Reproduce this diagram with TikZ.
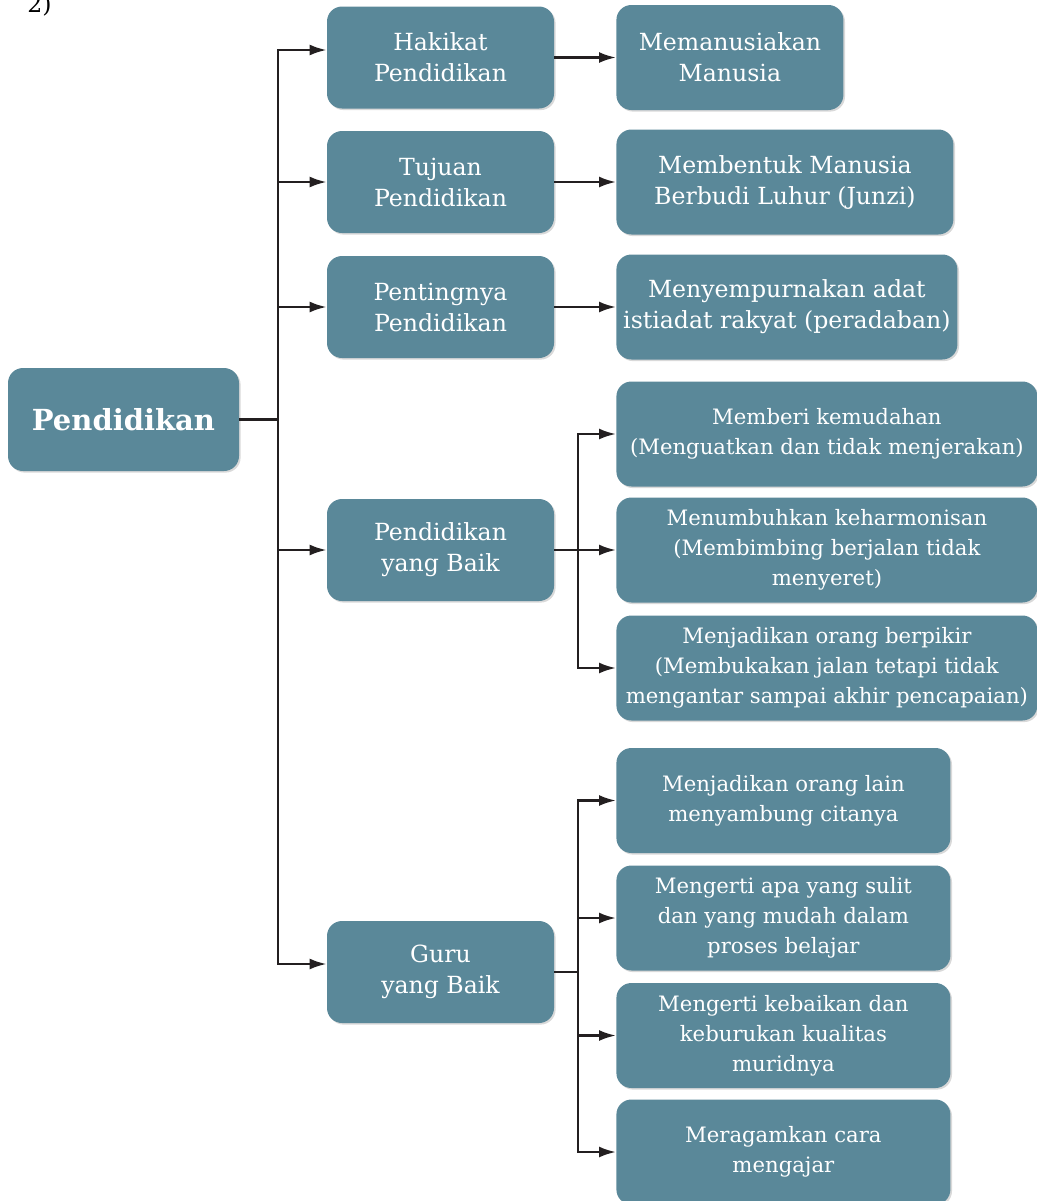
\documentclass[tikz,border=0pt]{standalone}
\usepackage{fontspec}
\setmainfont{DejaVu Serif}
\usetikzlibrary{shadows,arrows.meta}
\definecolor{boxblue}{RGB}{90,136,153}
\definecolor{linegray}{RGB}{35,31,32}

\begin{document}
\begin{tikzpicture}[x=0.5pt, y=-0.5pt, >={Latex[length=8.5pt,width=5.5pt]}, font=\fontsize{10.6}{15}\selectfont]

    % --- STYLES ---
    \tikzstyle{topic} = [fill=boxblue, text=white, rounded corners=7.5pt, align=center, inner sep=2pt, drop shadow={shadow xshift=0.8pt, shadow yshift=-0.8pt, opacity=0.3}]
    \tikzstyle{bigtext} = [font=\fontsize{11.8}{15.5}\selectfont]
    \tikzstyle{rootbox} = [topic, minimum width=115.5pt, minimum height=51.5pt, font=\fontsize{14.5}{18}\selectfont\bfseries]
    \tikzstyle{branch} = [topic, bigtext, minimum width=113.5pt, minimum height=51pt]
    \tikzstyle{leaf} = [topic, anchor=west, minimum height=52.5pt]
    \tikzstyle{wire} = [draw=linegray, line width=1.2pt]
    \tikzstyle{arrow} = [wire, ->]

    % --- DEFINITIONS ---
    \def\bX{440.5} % branch column (centre)
    \def\lX{616}   % leaf column (left edge)

    \useasboundingbox (0,0) rectangle (1037,1201);

    % --- LABEL ---
    \node[anchor=base west, bigtext, inner sep=0] (num) at (27,12) {2)};

    % --- ROOT ---
    \node[rootbox] (root) at (123.5,419.5) {Pendidikan};

    % --- BRANCHES ---
    \node[branch] (hak) at (\bX,57.5) {Hakikat\\Pendidikan};
    \node[branch] (tuj) at (\bX,182) {Tujuan\\Pendidikan};
    \node[branch] (pen) at (\bX,307) {Pentingnya\\Pendidikan};
    \node[branch] (pyb) at (\bX,550) {Pendidikan\\yang Baik};
    \node[branch] (gyb) at (\bX,972) {Guru\\yang Baik};

    % --- LEAVES ---
    \node[leaf, bigtext, minimum width=113.5pt] (man) at (\lX,57.5) {Memanusiakan\\Manusia};
    \node[leaf, bigtext, minimum width=168.5pt] (bud) at (\lX,182) {Membentuk Manusia\\Berbudi Luhur (Junzi)};
    \node[leaf, bigtext, minimum width=170.5pt] (ada) at (\lX,307) {Menyempurnakan adat\\istiadat rakyat (peradaban)};

    % 1. Pendidikan yang Baik
    \node[leaf, minimum width=210.5pt] (mud) at (\lX,434) {Memberi kemudahan\\(Menguatkan dan tidak menjerakan)};
    \node[leaf, minimum width=210.5pt] (har) at (\lX,550) {Menumbuhkan keharmonisan\\(Membimbing berjalan tidak\\menyeret)};
    \node[leaf, minimum width=210.5pt] (pik) at (\lX,668) {Menjadikan orang berpikir\\(Membukakan jalan tetapi tidak\\mengantar sampai akhir pencapaian)};

    % 2. Guru yang Baik
    \node[leaf, minimum width=167pt] (cit) at (\lX,800.5) {Menjadikan orang lain\\menyambung citanya};
    \node[leaf, minimum width=167pt] (sul) at (\lX,918) {Mengerti apa yang sulit\\dan yang mudah dalam\\proses belajar};
    \node[leaf, minimum width=167pt] (mur) at (\lX,1035.5) {Mengerti kebaikan dan\\keburukan kualitas\\muridnya};
    \node[leaf, minimum width=167pt] (aja) at (\lX,1152) {Meragamkan cara\\mengajar};

    % --- CONNECTIONS ---
    \coordinate (jA) at (278,419.5);
    \coordinate (jB) at (578,550);
    \coordinate (jC) at (578,972);

    % Root to branches
    \draw[wire] (root.east) -- (jA);
    \draw[arrow] (jA) |- ([yshift=3.75pt]hak.west);
    \draw[arrow] (jA) |- (tuj.west);
    \draw[arrow] (jA) |- (pen.west);
    \draw[arrow] (jA) |- (pyb.west);
    \draw[arrow] (jA) |- ([yshift=4pt]gyb.west);

    % Branches to single leaves
    \draw[arrow] (hak.east) -- (man.west);
    \draw[arrow] (tuj.east) -- (bud.west);
    \draw[arrow] (pen.east) -- (ada.west);

    % Pendidikan yang Baik
    \draw[wire] (pyb.east) -- (jB);
    \draw[arrow] (jB) |- (mud.west);
    \draw[arrow] (jB) |- (har.west);
    \draw[arrow] (jB) |- (pik.west);

    % Guru yang Baik
    \draw[wire] (gyb.east) -- (jC);
    \draw[arrow] (jC) |- (cit.west);
    \draw[arrow] (jC) |- (sul.west);
    \draw[arrow] (jC) |- (mur.west);
    \draw[arrow] (jC) |- (aja.west);

\end{tikzpicture}
\end{document}
